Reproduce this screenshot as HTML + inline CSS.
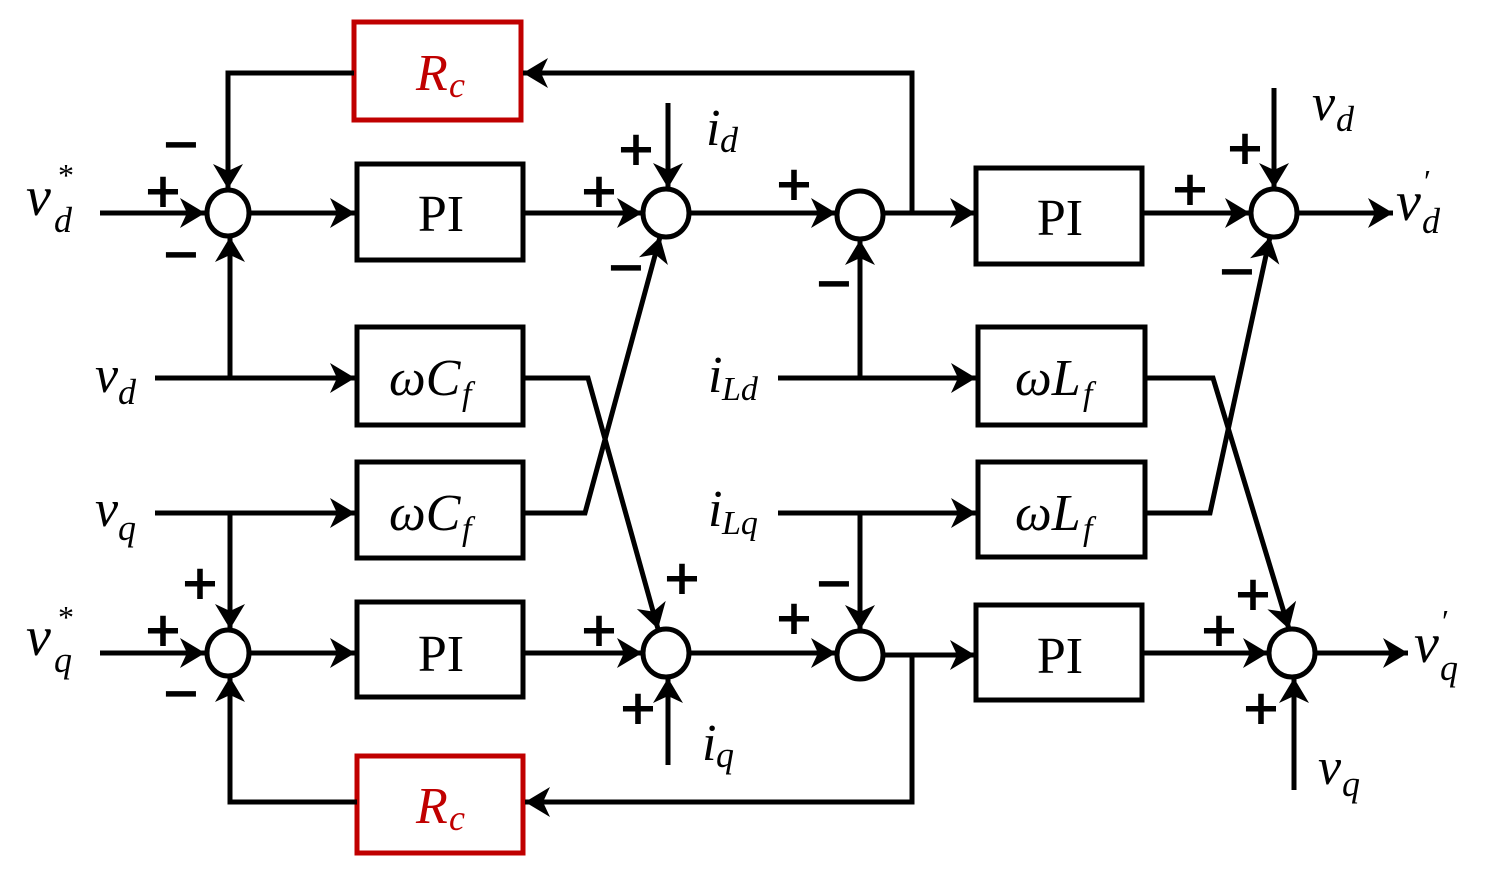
<!DOCTYPE html>
<html><head><meta charset="utf-8"><style>
html,body{margin:0;padding:0;background:#fff;}
svg{display:block;}
</style></head><body>
<svg width="1490" height="879" viewBox="0 0 1490 879" xmlns="http://www.w3.org/2000/svg">
<defs>
<marker id="a" viewBox="0 0 12 12" refX="11" refY="6" markerWidth="12" markerHeight="12" markerUnits="userSpaceOnUse" orient="auto" overflow="visible">
<path d="M-14,-9 L11,6 L-14,21 L-7,6 Z" fill="#000"/>
</marker>
</defs>
<g stroke="#000" stroke-width="5" fill="none">
<rect x="354" y="22" width="167" height="98" stroke="#c00000"/>
<rect x="357" y="164" width="166" height="96"/>
<rect x="357" y="327" width="166" height="98"/>
<rect x="357" y="462" width="166" height="96"/>
<rect x="357" y="602" width="166" height="95"/>
<rect x="357" y="756" width="166" height="97" stroke="#c00000"/>
<rect x="976" y="168" width="166" height="96"/>
<rect x="978" y="327" width="167" height="98"/>
<rect x="978" y="462" width="167" height="95"/>
<rect x="976" y="605" width="166" height="95"/>
<ellipse cx="228" cy="213" rx="21" ry="23"/>
<ellipse cx="666" cy="213" rx="23" ry="24"/>
<ellipse cx="860" cy="215" rx="23" ry="24"/>
<ellipse cx="1274" cy="213" rx="23" ry="24"/>
<ellipse cx="228" cy="653" rx="21" ry="23"/>
<ellipse cx="666" cy="653" rx="23" ry="24"/>
<ellipse cx="860" cy="655" rx="23" ry="24"/>
<ellipse cx="1292" cy="653" rx="23" ry="24"/>
</g>
<g stroke="#000" stroke-width="5" fill="none" marker-end="url(#a)">
<path d="M100,213 H205"/>
<path d="M250,213 H355"/>
<path d="M523,213 H642"/>
<path d="M668,103 V188"/>
<path d="M690,213 H836"/>
<path d="M884,213 H975"/>
<path d="M912,213 V73 H523"/>
<path d="M354,73 H228 V189"/>
<path d="M155,378 H355"/>
<path d="M230,378 V237"/>
<path d="M523,378 H588 L658,629"/>
<path d="M523,513 H585 L660,237"/>
<path d="M155,513 H355"/>
<path d="M230,513 V629"/>
<path d="M100,653 H205"/>
<path d="M250,653 H355"/>
<path d="M523,653 H642"/>
<path d="M668,765 V678"/>
<path d="M690,653 H836"/>
<path d="M884,655 H975"/>
<path d="M912,655 V802 H525"/>
<path d="M357,802 H230 V677"/>
<path d="M778,378 H976"/>
<path d="M860,378 V240"/>
<path d="M778,513 H976"/>
<path d="M860,513 V630"/>
<path d="M1145,378 H1213 L1289,629"/>
<path d="M1145,513 H1210 L1270,237"/>
<path d="M1274,88 V188"/>
<path d="M1142,213 H1250"/>
<path d="M1297,213 H1393"/>
<path d="M1142,653 H1268"/>
<path d="M1315,653 H1408"/>
<path d="M1294,790 V678"/>
</g>
<g font-family="DejaVu Sans, Liberation Sans, sans-serif" font-weight="bold" font-size="48" fill="#000" text-anchor="middle">
<text x="163" y="207">+</text><text x="181" y="160">−</text><text x="181" y="270">−</text>
<text x="599" y="207">+</text><text x="636" y="165">+</text><text x="626" y="283">−</text>
<text x="794" y="200">+</text><text x="834" y="299">−</text>
<text x="1190" y="205">+</text><text x="1245" y="164">+</text><text x="1237" y="287">−</text>
<text x="200" y="599">+</text><text x="163" y="646">+</text><text x="181" y="709">−</text>
<text x="599" y="646">+</text><text x="682" y="594">+</text><text x="638" y="724">+</text>
<text x="794" y="634">+</text><text x="834" y="599">−</text>
<text x="1219" y="646">+</text><text x="1253" y="610">+</text><text x="1261" y="724">+</text>
</g>
<g font-family="Liberation Serif, DejaVu Serif, serif" font-size="52" fill="#000" text-anchor="middle">
<text x="441" y="231">PI</text><text x="441" y="671">PI</text>
<text x="1060" y="235">PI</text><text x="1060" y="673">PI</text>
</g>
<g fill="#c00000" font-family="Liberation Serif, DejaVu Serif, serif" font-style="italic">
<text x="416" y="90" font-size="52">R</text><text x="449" y="97" font-size="36">c</text>
<text x="416" y="823" font-size="52">R</text><text x="449" y="830" font-size="36">c</text>
</g>
<g fill="#000" font-family="Liberation Serif, DejaVu Serif, serif" font-style="italic">
<text x="389" y="395" font-size="52">ωC</text><text x="462" y="405" font-size="34">f</text>
<text x="389" y="530" font-size="52">ωC</text><text x="462" y="540" font-size="34">f</text>
<text x="1015" y="395" font-size="52">ωL</text><text x="1083" y="405" font-size="34">f</text>
<text x="1015" y="530" font-size="52">ωL</text><text x="1083" y="540" font-size="34">f</text>
<text x="26" y="215" font-size="56">v</text><text x="54" y="232" font-size="36">d</text><text x="58" y="186" font-size="32" font-style="normal">*</text>
<text x="26" y="655" font-size="56">v</text><text x="54" y="672" font-size="36">q</text><text x="58" y="628" font-size="32" font-style="normal">*</text>
<text x="95" y="392" font-size="52">v</text><text x="118" y="404" font-size="36">d</text>
<text x="95" y="526" font-size="52">v</text><text x="118" y="540" font-size="36">q</text>
<text x="706" y="145" font-size="52">i</text><text x="720" y="152" font-size="36">d</text>
<text x="702" y="760" font-size="52">i</text><text x="716" y="767" font-size="36">q</text>
<text x="708" y="392" font-size="52">i</text><text x="722" y="400" font-size="34">Ld</text>
<text x="708" y="526" font-size="52">i</text><text x="722" y="534" font-size="34">Lq</text>
<text x="1312" y="120" font-size="52">v</text><text x="1336" y="131" font-size="36">d</text>
<text x="1318" y="784" font-size="52">v</text><text x="1342" y="796" font-size="36">q</text>
<text x="1396" y="220" font-size="56">v</text><text x="1422" y="233" font-size="36">d</text><text x="1424" y="192" font-size="32" font-style="normal">′</text>
<text x="1414" y="662" font-size="56">v</text><text x="1440" y="680" font-size="36">q</text><text x="1442" y="632" font-size="32" font-style="normal">′</text>
</g>
</svg>
</body></html>
